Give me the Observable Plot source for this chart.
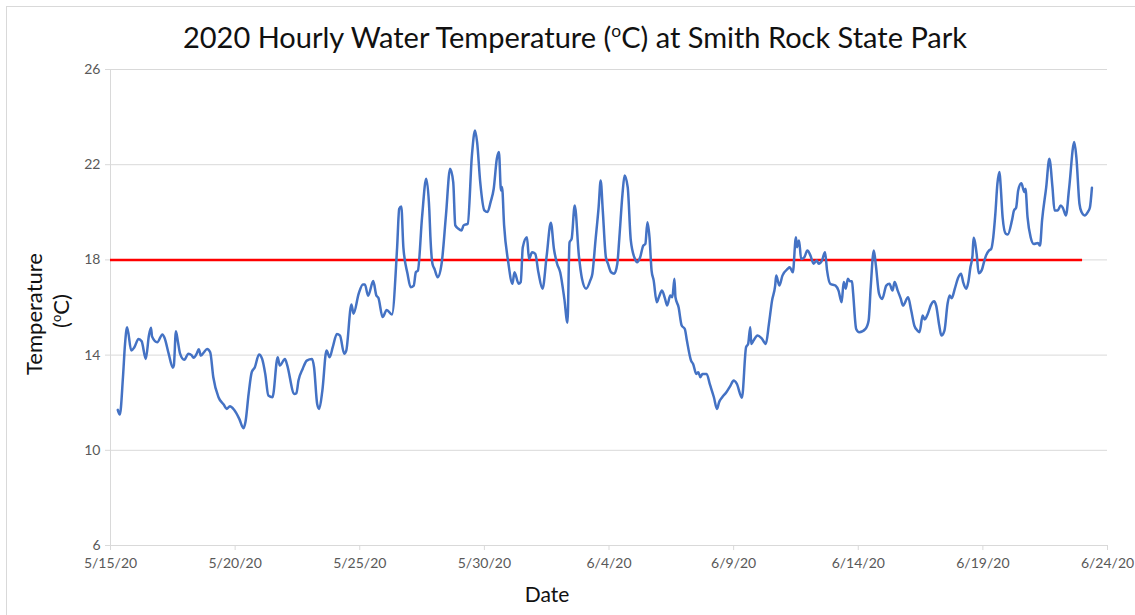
<!DOCTYPE html>
<html><head><meta charset="utf-8">
<script src="https://cdn.jsdelivr.net/npm/d3@7"></script>
<script src="https://cdn.jsdelivr.net/npm/@observablehq/plot@0.6"></script>
<style>
body{margin:0;background:#fff;}
#wrap{position:relative;width:1135px;height:615px;overflow:hidden;background:#fff;font-family:Lato,sans-serif;}
#frame{position:absolute;left:6px;top:6px;width:1140px;height:620px;border:1px solid #d9d9d9;box-sizing:border-box;}
#title{position:absolute;left:0;top:17px;width:1150px;text-align:center;font-size:29px;color:#111;line-height:40px;white-space:nowrap;}
#title sup{font-size:60%;vertical-align:super;line-height:0;}
#plot{position:absolute;left:0;top:55px;}
</style></head><body>
<div id="wrap"><div id="frame"></div><div id="title">2020 Hourly Water Temperature (<sup>o</sup>C) at Smith Rock State Park</div><div id="plot"></div></div>
<script>
const startDate = "2020-05-15T00:00:00Z";
const hours = [7,9,12,14,16,20,23,27,30,34,37,39,40,45,50,52,56,60,61,63,65,67,71,75,78,80,83,85,87,90,93,96,99,104,109,112,115,119,124,128,130,133,136,139,143,146,149,152,156,161,163,168,170,177,179,181,185,189,194,196,199,201,204,208,211,214,218,221,225,227,232,234,239,243,245,248,253,256,258,262,266,271,276,278,280,282,286,289,292,294,296,300,304,307,308,310,312,315,319,323,327,330,332,335,338,340,344,348,351,353,356,360,363,366,369,372,374,376,377,379,383,387,389,393,395,397,401,403,406,409,412,416,420,424,427,430,433,437,440,442,444,447,451,454,458,462,464,467,470,472,474,477,479,482,485,488,490,493,495,498,501,505,507,510,513,515,517,519,521,523,526,528,531,534,536,539,541,543,544,547,550,553,555,559,561,564,566,568,570,574,577,581,584,586,589,593,597,600,603,608,612,614,616,617,619,623,627,631,634,637,640,641,644,647,652,654,657,660,661,663,665,668,671,674,677,680,682,685,688,690,693,698,701,704,706,708,710,712,714,715,718,721,727,730,732,735,737,740,743,747,750,753,755,758,761,763,768,771,774,777,779,782,784,787,790,793,795,798,800,803,806,808,810,813,816,819,821,824,826,828,830,831,834,836,839,841,843,846,848,850,852,854,856,857,859,862,864,868,870,872,874,877,880,881,883,886,889,893,895,897,901,904,907,909,912,915,917,920,923,928,930,933,935,938,941,943,945];
const temps = [11.70,11.50,13.07,14.47,15.17,14.19,14.33,14.68,14.58,13.84,14.82,15.15,14.78,14.54,14.87,14.73,14.06,13.47,13.56,15.00,14.54,14.06,13.80,14.06,14.00,13.89,14.06,14.25,13.98,14.12,14.26,14.12,13.07,12.23,11.92,11.74,11.85,11.70,11.32,10.93,11.20,12.37,13.28,13.49,14.03,13.84,13.21,12.30,12.23,13.91,13.56,13.84,13.60,12.37,12.40,12.93,13.42,13.77,13.84,13.49,11.95,11.74,12.51,14.19,13.91,14.33,14.89,14.82,14.06,14.19,16.13,15.74,16.58,16.97,16.97,16.49,17.11,16.50,16.40,15.60,15.90,15.71,18.53,20.15,20.24,18.53,17.42,16.85,16.92,17.48,17.55,19.80,21.41,20.08,19.00,17.84,17.62,17.27,17.90,19.87,21.83,21.27,19.45,19.31,19.24,19.45,19.52,22.39,23.44,22.95,21.27,20.08,20.01,20.43,20.99,22.25,22.53,20.92,21.06,19.45,17.90,17.00,17.48,17.00,17.07,18.53,18.95,18.04,18.32,18.25,17.48,16.79,18.18,19.56,18.46,17.84,17.48,16.36,15.36,18.74,18.88,20.29,18.18,17.21,16.79,17.14,17.42,18.82,20.21,21.34,20.08,18.11,17.84,17.48,17.42,17.84,18.95,20.77,21.55,21.06,18.82,18.04,17.90,18.11,18.60,18.67,19.58,18.95,17.55,17.14,16.22,16.43,16.71,16.36,16.08,16.50,16.43,17.21,16.43,16.01,15.24,15.10,14.61,13.77,13.63,13.21,13.28,13.07,13.21,13.21,12.79,12.23,11.74,12.02,12.23,12.44,12.72,12.93,12.80,12.21,14.33,14.47,15.17,14.47,14.60,14.82,14.70,14.47,15.31,16.29,16.92,17.34,16.92,17.34,17.62,17.69,17.48,18.95,18.53,18.82,18.04,18.11,18.39,18.18,17.84,17.97,17.84,17.97,18.32,17.55,17.00,16.92,16.71,16.22,17.07,16.79,17.21,17.10,17.10,16.64,15.10,14.96,15.10,15.45,16.85,18.39,17.76,16.58,16.36,16.92,17.00,16.71,17.07,16.71,16.36,16.08,16.43,15.87,15.24,15.03,14.96,15.66,15.50,15.74,16.11,16.26,16.08,15.24,14.82,15.03,16.16,16.50,16.39,16.79,17.23,17.42,17.07,16.79,17.07,17.69,18.18,18.93,18.25,17.44,17.58,17.90,18.18,18.40,18.46,18.95,19.93,21.20,21.69,21.20,19.80,19.10,19.07,19.66,20.08,20.19,20.92,21.22,20.85,20.99,19.80,18.95,18.67,18.71,18.60,19.66,21.06,22.25,21.06,20.08,20.08,20.29,20.19,19.87,20.99,22.95,22.32,20.36,20.01,19.87,20.01,20.19,21.03];
const threshold = 18;
const thresholdSpan = ["2020-05-15T00:00:00Z", "2020-06-23T00:00:00Z"];
const xDomain = ["2020-05-15T00:00:00Z", "2020-06-24T00:00:00Z"];
const xTicks = ["2020-05-15","2020-05-20","2020-05-25","2020-05-30","2020-06-04","2020-06-09","2020-06-14","2020-06-19","2020-06-24"];
const yTicks = [6, 10, 14, 18, 22, 26];
const yDomain = [6, 26];

const t0 = new Date(startDate).getTime();
const data = hours.map((h, i) => ({date: new Date(t0 + h * 3600e3), temp: temps[i]}));
const tickDates = xTicks.map(s => new Date(s + "T00:00:00Z"));
const fmt = d3.utcFormat("%-m/%-d/%y");

const chart = Plot.plot({
  width: 1135, height: 560,
  marginLeft: 110, marginRight: 28, marginTop: 14, marginBottom: 70,
  style: {fontFamily: "Lato, sans-serif", fontSize: "14px", background: "transparent", overflow: "visible"},
  x: {type: "utc", domain: xDomain.map(s => new Date(s)), label: null},
  y: {domain: yDomain, label: null},
  marks: [
    Plot.gridY(yTicks, {stroke: "#d9d9d9", strokeOpacity: 1, strokeWidth: 1}),
    Plot.ruleX([new Date(xDomain[0])], {stroke: "#d9d9d9", strokeWidth: 1}),
    Plot.axisY(yTicks, {tickSize: 5, tickPadding: 5, stroke: "#d9d9d9", fill: "#595959", label: null}),
    Plot.axisX(tickDates, {tickSize: 5, tickPadding: 8, stroke: "#d9d9d9", fill: "#595959", tickFormat: fmt, label: null}),
    Plot.ruleY([{y: threshold, x1: new Date(thresholdSpan[0]), x2: new Date(thresholdSpan[1])}], {y: "y", x1: "x1", x2: "x2", stroke: "#ff0000", strokeWidth: 2.5}),
    Plot.line(data, {x: "date", y: "temp", stroke: "#4472c4", strokeWidth: 2.5, curve: "monotone-x"})
  ]
});
document.getElementById("plot").appendChild(chart);

const svg = d3.select(chart);
svg.append("text").attr("transform", "translate(547,547)").attr("text-anchor", "middle")
  .style("font-size", "21px").style("fill", "#111").text("Date");
svg.append("text").attr("transform", "translate(42,259) rotate(-90)").attr("text-anchor", "middle")
  .style("font-size", "22px").style("fill", "#111").text("Temperature");
const u = svg.append("text").attr("transform", "translate(69,256) rotate(-90)").attr("text-anchor", "middle")
  .style("font-size", "22px").style("fill", "#111");
u.append("tspan").text("(");
u.append("tspan").attr("baseline-shift", "super").style("font-size", "13px").text("o");
u.append("tspan").text("C)");
</script>
</body></html>
